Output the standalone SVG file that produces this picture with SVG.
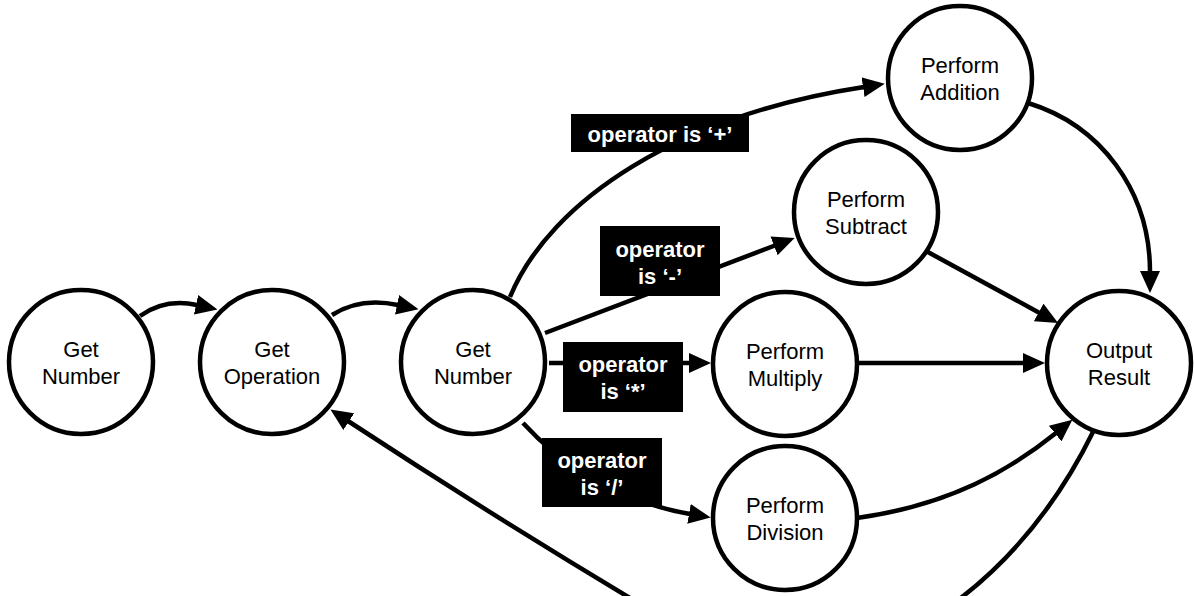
<svg xmlns="http://www.w3.org/2000/svg" width="1194" height="596" viewBox="0 0 1194 596">
<style>
.node circle{fill:#fff;stroke:#000;stroke-width:4.5}
.node text{font-family:"Liberation Sans",Arial,sans-serif;font-size:22px;fill:#000;text-anchor:middle}
.edge{fill:none;stroke:#000;stroke-width:4.5;marker-end:url(#ah)}
.lbl rect{fill:#000}
.lbl text{font-family:"Liberation Sans",Arial,sans-serif;font-size:22px;font-weight:bold;fill:#fff;text-anchor:middle}
</style>
<defs>
<marker id="ah" markerUnits="userSpaceOnUse" markerWidth="22" markerHeight="20" refX="1" refY="10" orient="auto" viewBox="0 0 22 20"><path d="M0,0 L22,10 L0,20 z" fill="#000"/></marker>
</defs>
<rect width="1194" height="596" fill="#fff"/>
<g id="connectors">
<path class="edge" d="M140,316 Q165,298 197,305"/>
<path class="edge" d="M332,315 Q360,297 398,305"/>
<path class="edge" d="M510,297 C550,200 680,115 864,87"/>
<path class="edge" d="M545,333 L775,245.5"/>
<path class="edge" d="M549,363 L690,363"/>
<path class="edge" d="M523,423 C555,458 610,500 690,514"/>
<path class="edge" d="M1028,103 C1100,125 1150,190 1150,272"/>
<path class="edge" d="M926,251 L1039.6,312.9"/>
<path class="edge" d="M857,363 L1024,363"/>
<path class="edge" d="M857,518 C950,505 1010,470 1056,433"/>
<path class="edge" d="M1093,432 C1020,580 900,660 770,680 Q560,560 348,421"/>
</g>
<g id="labels">
<g class="lbl" id="lbl-add"><rect x="571" y="114" width="178" height="38"/><text x="660" y="142">operator is ‘+’</text></g>
<g class="lbl" id="lbl-sub"><rect x="600" y="226" width="120" height="70"/><text x="660" y="257">operator</text><text x="660" y="284">is ‘-’</text></g>
<g class="lbl" id="lbl-mul"><rect x="563" y="342" width="120" height="70"/><text x="623" y="372">operator</text><text x="623" y="399">is ‘*’</text></g>
<g class="lbl" id="lbl-div"><rect x="542" y="438" width="120" height="69"/><text x="602" y="468">operator</text><text x="602" y="495">is ‘/’</text></g>
</g>
<g id="n1" class="node"><circle cx="81" cy="362" r="72"/><text x="81" y="357">Get</text><text x="81" y="384">Number</text></g>
<g id="n2" class="node"><circle cx="272" cy="362" r="72"/><text x="272" y="357">Get</text><text x="272" y="384">Operation</text></g>
<g id="n3" class="node"><circle cx="473" cy="362" r="72"/><text x="473" y="357">Get</text><text x="473" y="384">Number</text></g>
<g id="add" class="node"><circle cx="960" cy="78" r="72"/><text x="960" y="73">Perform</text><text x="960" y="100">Addition</text></g>
<g id="sub" class="node"><circle cx="866" cy="212" r="72"/><text x="866" y="207">Perform</text><text x="866" y="234">Subtract</text></g>
<g id="mul" class="node"><circle cx="785" cy="364" r="72"/><text x="785" y="359">Perform</text><text x="785" y="386">Multiply</text></g>
<g id="div" class="node"><circle cx="785" cy="518" r="72"/><text x="785" y="513">Perform</text><text x="785" y="540">Division</text></g>
<g id="out" class="node"><circle cx="1119" cy="363" r="72"/><text x="1119" y="358">Output</text><text x="1119" y="385">Result</text></g>
</svg>
